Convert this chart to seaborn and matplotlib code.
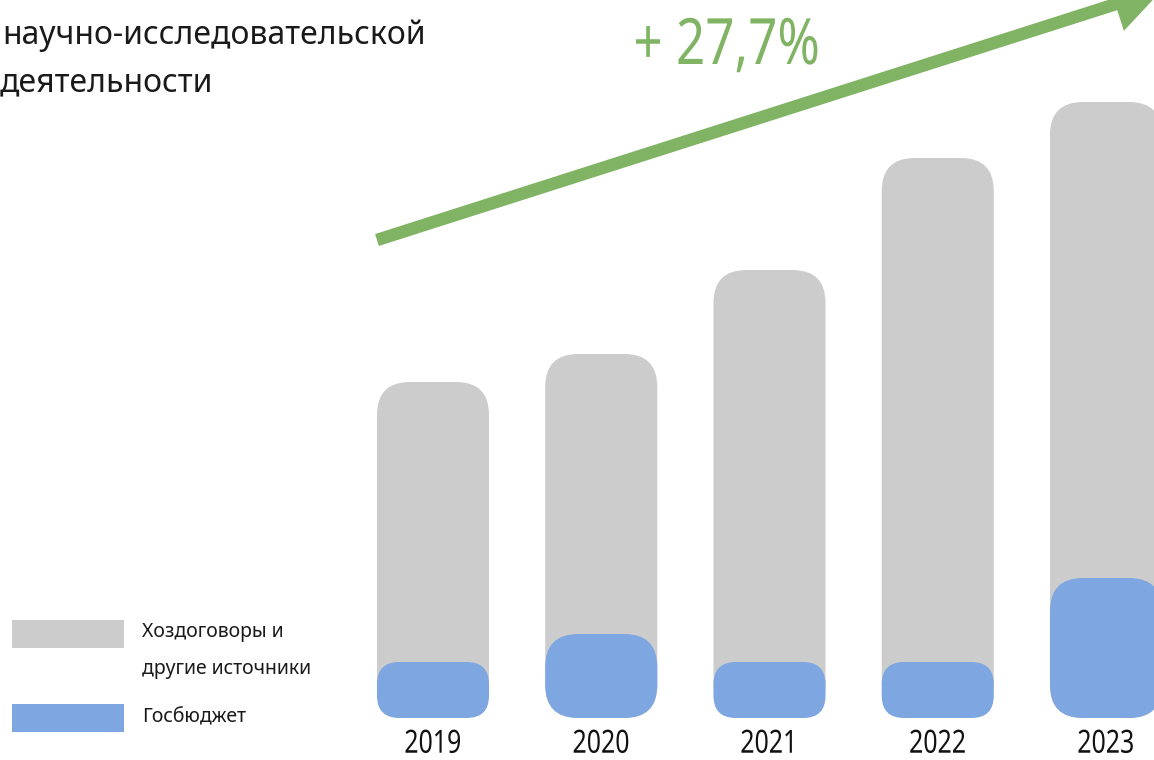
import pandas as pd
import matplotlib.pyplot as plt
import seaborn as sns
from matplotlib.patches import FancyBboxPatch, Rectangle, FancyArrow
from matplotlib.patheffects import AbstractPathEffect
from matplotlib.transforms import Affine2D

# Data (units: arbitrary, bar heights)
years = ["2019", "2020", "2021", "2022", "2023"]
total = [6.0, 6.5, 8.0, 10.0, 11.0]      # Хоздоговоры и другие источники + Госбюджет
budget = [1.0, 1.5, 1.0, 1.0, 2.5]       # Госбюджет
growth_label = "+ 27,7%"

GREY = "#cccccc"
BLUE = "#7ea6e0"
GREEN = "#80b464"
DARK = "#1a1a1a"

W, H = 1154, 760
PX_PER_UNIT = 56


class Squeeze(AbstractPathEffect):
    """Narrow the glyphs horizontally (no condensed font installed)."""

    def __init__(self, sx):
        super().__init__()
        self.sx = sx

    def draw_path(self, renderer, gc, tpath, affine, rgbFace=None):
        xs = tpath.vertices[:, 0]
        cx = (xs.min() + xs.max()) / 2
        t = Affine2D().translate(-cx, 0).scale(self.sx, 1).translate(cx, 0) + affine
        renderer.draw_path(gc, tpath, t, rgbFace)


sns.set_style("white")
plt.rcParams["font.family"] = ["Noto Sans", "DejaVu Sans"]

df = pd.DataFrame({"year": years, "total": total, "budget": budget})

fig = plt.figure(figsize=(W / 100, H / 100), dpi=100)
ax = fig.add_axes([0, 42 / H, 1, 718 / H])

sns.barplot(data=df, x="year", y="total", color=GREY, width=0.666,
            saturation=1, ax=ax)
sns.barplot(data=df, x="year", y="budget", color=BLUE, width=0.666,
            saturation=1, ax=ax)

# scale so that 1 unit = 56 px vertically and bars are 168 px apart
ax.set_xlim(-2.5736, 4.2853)
ax.set_ylim(0, 718 / PX_PER_UNIT)

# rounded bars
px_x = 6.859 / W
aspect = (1 / PX_PER_UNIT) / px_x
for p in list(ax.patches):
    h_px = p.get_height() * PX_PER_UNIT
    r = min(33, 0.4 * h_px) * px_x
    fb = FancyBboxPatch((p.get_x(), p.get_y()), p.get_width(), p.get_height(),
                        boxstyle=f"round,pad=0,rounding_size={r}",
                        mutation_aspect=aspect, fc=p.get_facecolor(),
                        ec="none", zorder=p.get_zorder())
    p.remove()
    ax.add_patch(fb)

ax.set_xlabel("")
ax.set_ylabel("")
ax.set_yticks([])
ax.tick_params(axis="x", length=0, pad=7)
for lab in ax.get_xticklabels():
    lab.set_fontsize(23)
    lab.set_color("#111111")
    lab.set_path_effects([Squeeze(0.78)])
sns.despine(ax=ax, left=True, bottom=True)

# growth arrow
fig.patches.append(FancyArrow(3.77, 5.20, 7.86, 2.51, width=0.125,
                              head_width=0.56, head_length=0.5,
                              length_includes_head=True, color=GREEN,
                              lw=0, transform=fig.dpi_scale_trans, figure=fig))
fig.text(727 / W, 1 - 47 / H, growth_label, ha="center", va="center",
         color=GREEN, fontsize=46, path_effects=[Squeeze(0.8)])

# title (first line is cut off in the source image)
fig.text(2 / W, 1 - 44 / H, "научно-исследовательской", ha="left",
         va="baseline", fontsize=23, color=DARK)
fig.text(0 / W, 1 - 91 / H, "деятельности", ha="left",
         va="baseline", fontsize=23, color=DARK)

# legend
fig.patches.append(Rectangle((12 / W, 112 / H), 112 / W, 28 / H, fc=GREY,
                             ec="none", transform=fig.transFigure, figure=fig))
fig.patches.append(Rectangle((12 / W, 28 / H), 112 / W, 28 / H, fc=BLUE,
                             ec="none", transform=fig.transFigure, figure=fig))
fig.text(142 / W, 1 - 632 / H, "Хоздоговоры и", va="center", fontsize=14,
         color=DARK)
fig.text(142 / W, 1 - 669 / H, "другие источники", va="center", fontsize=14,
         color=DARK)
fig.text(142 / W, 1 - 717 / H, "Госбюджет", va="center", fontsize=14,
         color=DARK)

fig.savefig("out.png", dpi=100)
